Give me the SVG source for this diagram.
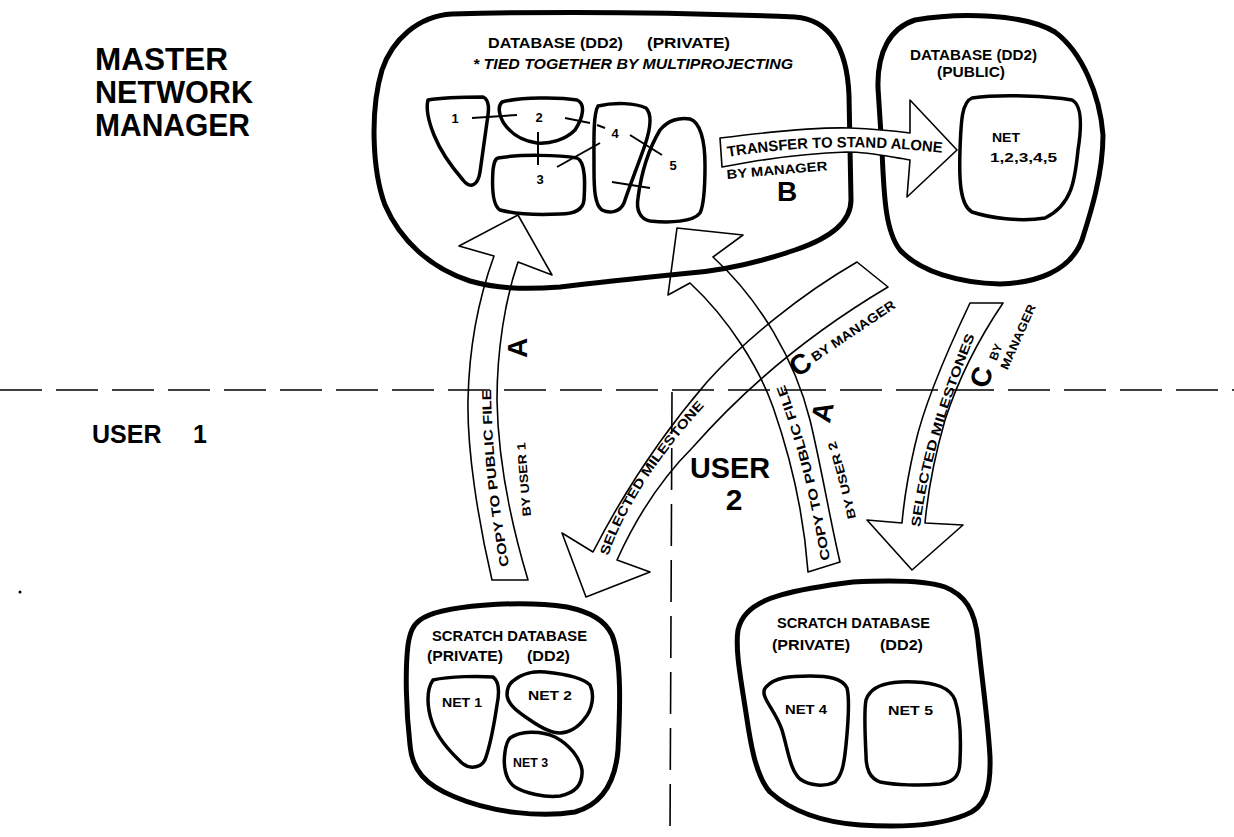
<svg xmlns="http://www.w3.org/2000/svg" width="1234" height="837" viewBox="0 0 1234 837">
<style>
text{font-family:"Liberation Sans",Arial,sans-serif;font-weight:bold;fill:#000}
.blob{fill:none;stroke:#000;stroke-width:5;stroke-linejoin:round}
.inner{fill:none;stroke:#000;stroke-width:3.5;stroke-linejoin:round}
.band{fill:none;stroke:#000;stroke-width:1.6;stroke-linejoin:round}
.bandw{fill:#fff;stroke:#000;stroke-width:1.6;stroke-linejoin:round}
.link{stroke:#000;stroke-width:2;fill:none}
.dash{stroke:#000;stroke-width:1.6;fill:none;stroke-dasharray:42 14}
.big{font-size:32px}
.mid{font-size:28px}
.sm{font-size:13px}
</style>
<defs>
<path id="pA1" d="M 509,566 C 500,510 492,460 491,388"/>
<path id="pA1b" d="M 531,516 L 525,441"/>
<path id="pA2" d="M 830,560 C 820,500 810,450 782,378"/>
<path id="pA2b" d="M 856,518 C 850,490 843,462 834,437"/>
<path id="pC1" d="M 608,556 C 623,513 652,463 708,402"/>
<path id="pC2" d="M 920,527 C 926,480 940,420 978,328"/>
<path id="pB" d="M 728,157 Q 830,140 945,153"/>
</defs>
<rect width="1234" height="837" fill="#fff"/>

<g id="section-labels">
<text class="big" x="95" y="70" textLength="133" lengthAdjust="spacingAndGlyphs">MASTER</text>
<text class="big" x="95" y="103" textLength="158" lengthAdjust="spacingAndGlyphs">NETWORK</text>
<text class="big" x="95" y="136" textLength="155" lengthAdjust="spacingAndGlyphs">MANAGER</text>
<text style="font-size:25px" x="92" y="443">USER <tspan x="193">1</tspan></text>
<text style="font-size:30px" x="690" y="478" textLength="80" lengthAdjust="spacingAndGlyphs">USER</text>
<text style="font-size:30px" x="734" y="510" text-anchor="middle">2</text>
<circle cx="20" cy="592" r="1.5" fill="#000"/>
</g>

<g id="dividers">
<line class="dash" x1="0" y1="390" x2="1234" y2="390"/>
<line class="dash" x1="672" y1="392" x2="670" y2="837"/>
</g>

<g id="connectors">
<path id="arrowA1" class="band" d="M 492,580 C 478,520 467,450 468,400 C 469,350 478,300 494,256 L 459,246 L 518,215 L 552,275 L 518,262 C 505,300 497,350 497,400 C 498,460 510,520 528,580 Z"/>
<path id="arrowA2" class="band" d="M 808,572 C 805,530 795,470 773,407 C 760,370 730,320 690,283 L 668,295 L 677,228 L 743,235 L 713,257 C 760,300 795,360 810,420 C 822,470 830,520 840,562 Z"/>
<path id="arrowC1" class="band" d="M 857,262 C 800,295 745,340 707,382 C 670,425 630,480 593,552 L 562,533 L 586,597 L 650,572 L 617,560 C 635,520 660,480 693,447 C 730,405 790,345 888,287 Z"/>
<path id="arrowC2" class="band" d="M 970,303 C 950,345 925,400 915,445 C 908,475 904,500 902,523 L 867,520 L 912,570 L 963,525 L 925,523 C 928,490 935,455 945,420 C 958,380 978,340 1003,303 Z"/>
</g>

<g id="db-private">
<path class="blob" d="M 452,14 C 600,10 720,14 795,17 C 832,20 847,50 849,95 L 851,200 C 851,225 825,240 795,250 C 760,262 725,270 690,273 C 640,278 600,282 560,287 C 520,290 495,288 470,281 C 430,268 400,240 385,205 C 372,170 370,110 382,70 C 392,40 418,16 452,14 Z"/>
<text style="font-size:14px" x="488" y="48" textLength="135" lengthAdjust="spacingAndGlyphs">DATABASE (DD2)</text>
<text style="font-size:14px" x="647" y="48" textLength="83" lengthAdjust="spacingAndGlyphs">(PRIVATE)</text>
<text style="font-size:14px;font-style:italic" x="473" y="69" textLength="320" lengthAdjust="spacingAndGlyphs">* TIED TOGETHER BY MULTIPROJECTING</text>
<g id="net1"><path class="inner" d="M 428,100 C 445,97 470,97 483,97 C 490,100 489,110 487,122 L 480,172 C 478,186 470,189 463,180 C 450,165 440,150 434,135 C 428,120 426,108 428,100 Z"/><text class="sm" x="455" y="123" text-anchor="middle">1</text></g>
<g id="net2"><path class="inner" d="M 502,102 C 520,97 560,97 577,100 C 586,104 583,118 575,130 C 565,140 550,144 537,143 C 522,141 510,133 503,122 C 499,114 498,106 502,102 Z"/><text class="sm" x="539" y="122" text-anchor="middle">2</text></g>
<g id="net3"><path class="inner" d="M 498,158 C 520,154 560,155 577,158 C 586,162 585,185 584,200 C 583,210 575,214 560,214 C 540,215 515,214 500,210 C 492,205 492,185 493,170 C 494,162 495,159 498,158 Z"/><text class="sm" x="540" y="184" text-anchor="middle">3</text></g>
<g id="net4"><path class="inner" d="M 598,106 C 615,102 635,103 646,108 C 653,115 650,130 645,145 C 638,165 630,185 624,203 C 620,212 610,214 602,210 C 595,205 594,190 594,170 C 594,140 593,115 598,106 Z"/><text class="sm" x="615" y="138" text-anchor="middle">4</text></g>
<g id="net5"><path class="inner" d="M 660,130 C 668,120 680,117 690,119 C 700,122 705,140 705,165 C 705,190 704,205 700,213 C 693,222 670,223 650,221 C 640,219 636,210 638,198 C 641,175 648,150 660,130 Z"/><text class="sm" x="673" y="170" text-anchor="middle">5</text></g>
<g id="multiproject-links">
<line class="link" x1="472" y1="118" x2="517" y2="115"/>
<line class="link" x1="565" y1="118" x2="590" y2="123"/>
<line class="link" x1="597" y1="125" x2="605" y2="128"/>
<line class="link" x1="630" y1="135" x2="662" y2="155"/>
<line class="link" x1="538" y1="132" x2="538" y2="165"/>
<line class="link" x1="557" y1="167" x2="600" y2="143"/>
<line class="link" x1="612" y1="182" x2="650" y2="188"/>
</g>
</g>

<g id="db-public">
<path class="blob" d="M 915,20 C 960,12 1025,14 1055,32 C 1082,52 1100,95 1103,135 C 1103,175 1090,215 1082,240 C 1070,272 1035,283 1000,284 C 960,283 920,272 900,250 C 886,232 884,200 882,150 L 878,88 C 877,52 890,28 915,20 Z"/>
<text style="font-size:14px" x="910" y="60" textLength="127" lengthAdjust="spacingAndGlyphs">DATABASE (DD2)</text>
<text style="font-size:14px" x="937" y="77" textLength="68" lengthAdjust="spacingAndGlyphs">(PUBLIC)</text>
<path class="inner" d="M 972,98 C 1000,94 1050,96 1072,100 C 1082,105 1082,125 1078,150 C 1075,180 1072,205 1045,218 C 1020,222 990,218 972,212 C 960,205 959,180 960,150 C 961,120 962,102 972,98 Z"/>
<text class="sm" x="992" y="142" textLength="28" lengthAdjust="spacingAndGlyphs">NET</text>
<text class="sm" x="990" y="162" textLength="67" lengthAdjust="spacingAndGlyphs">1,2,3,4,5</text>
</g>

<g id="arrowB">
<path class="bandw" d="M 720,138 C 760,133 820,127 850,128 C 875,129 895,131 910,133 L 910,100 L 957,150 L 907,197 L 910,160 C 890,157 870,152 847,152 C 815,153 780,157 750,162 L 722,167 Z"/>
<text style="font-size:15px"><textPath href="#pB" textLength="215" lengthAdjust="spacingAndGlyphs">TRANSFER TO STAND ALONE</textPath></text>
<text class="sm" x="727" y="179" transform="rotate(-5 727 179)" textLength="101" lengthAdjust="spacingAndGlyphs">BY MANAGER</text>
<text class="mid" x="787" y="201" text-anchor="middle">B</text>
</g>

<g id="connector-labels">
<text class="sm"><textPath href="#pA1" textLength="178" lengthAdjust="spacingAndGlyphs">COPY TO PUBLIC FILE</textPath></text>
<text style="font-size:12px"><textPath href="#pA1b" textLength="74" lengthAdjust="spacingAndGlyphs">BY USER 1</textPath></text>
<text class="mid" transform="translate(517,348) rotate(-90)" x="0" y="10" text-anchor="middle">A</text>

<text class="sm"><textPath href="#pA2" textLength="182" lengthAdjust="spacingAndGlyphs">COPY TO PUBLIC FILE</textPath></text>
<text style="font-size:12px"><textPath href="#pA2b" textLength="80" lengthAdjust="spacingAndGlyphs">BY USER 2</textPath></text>
<text class="mid" transform="translate(822,412) rotate(-78)" x="0" y="10" text-anchor="middle">A</text>

<text class="sm"><textPath href="#pC1" textLength="180" lengthAdjust="spacingAndGlyphs">SELECTED MILESTONE</textPath></text>
<text class="mid" transform="translate(800,364) rotate(-35)" x="0" y="10" text-anchor="middle">C</text>
<text class="sm" x="815" y="362" transform="rotate(-34 815 362)" textLength="98" lengthAdjust="spacingAndGlyphs">BY MANAGER</text>

<text class="sm"><textPath href="#pC2" textLength="200" lengthAdjust="spacingAndGlyphs">SELECTED MILESTONES</textPath></text>
<text class="mid" transform="translate(981,377) rotate(-75)" x="0" y="10" text-anchor="middle">C</text>
<text style="font-size:12px" transform="translate(996,352) rotate(-68)" x="0" y="4" text-anchor="middle">BY</text>
<text style="font-size:12px" transform="translate(1018,337) rotate(-66)" x="0" y="4" text-anchor="middle" textLength="70" lengthAdjust="spacingAndGlyphs">MANAGER</text>
</g>

<g id="scratch-user1">
<path class="blob" d="M 420,620 C 440,605 520,600 567,607 C 590,612 605,620 612,635 C 622,660 620,710 618,750 C 615,785 600,805 575,812 C 540,818 490,812 455,797 C 425,785 412,770 410,745 C 406,710 405,670 408,645 C 410,632 413,625 420,620 Z"/>
<text style="font-size:14px" x="432" y="641" textLength="155" lengthAdjust="spacingAndGlyphs">SCRATCH DATABASE</text>
<text style="font-size:14px" x="427" y="661" textLength="76" lengthAdjust="spacingAndGlyphs">(PRIVATE)</text>
<text style="font-size:14px" x="527" y="661" textLength="43" lengthAdjust="spacingAndGlyphs">(DD2)</text>
<g id="u1-net1"><path class="inner" d="M 433,680 C 450,676 480,676 493,677 C 500,682 499,695 497,705 C 494,725 490,745 486,757 C 483,768 470,770 462,763 C 448,750 437,737 432,722 C 427,707 426,690 433,680 Z"/><text class="sm" x="442" y="707" textLength="40" lengthAdjust="spacingAndGlyphs">NET 1</text></g>
<g id="u1-net2"><path class="inner" d="M 513,681 C 522,673 535,671 545,672 C 565,674 583,678 590,685 C 595,695 592,710 585,718 C 578,728 568,733 560,733 C 550,733 540,727 530,720 C 518,712 508,705 507,695 C 507,688 509,684 513,681 Z"/><text class="sm" x="528" y="700" textLength="44" lengthAdjust="spacingAndGlyphs">NET 2</text></g>
<g id="u1-net3"><path class="inner" d="M 510,738 C 520,731 540,730 555,737 C 570,745 580,758 582,770 C 583,785 575,793 560,796 C 545,798 525,793 515,787 C 505,780 503,765 505,752 C 506,745 507,741 510,738 Z"/><text class="sm" x="513" y="767" textLength="35" lengthAdjust="spacingAndGlyphs">NET 3</text></g>
</g>

<g id="scratch-user2">
<path class="blob" d="M 747,613 C 760,598 790,590 853,582 C 890,580 925,580 945,587 C 965,595 975,610 978,640 C 982,680 988,720 990,757 C 991,790 985,808 965,815 C 940,825 905,828 860,825 C 820,822 790,810 770,792 C 755,775 750,740 746,713 C 741,680 735,650 738,630 C 740,622 743,617 747,613 Z"/>
<text style="font-size:14px" x="777" y="628" textLength="153" lengthAdjust="spacingAndGlyphs">SCRATCH DATABASE</text>
<text style="font-size:14px" x="772" y="650" textLength="78" lengthAdjust="spacingAndGlyphs">(PRIVATE)</text>
<text style="font-size:14px" x="880" y="650" textLength="43" lengthAdjust="spacingAndGlyphs">(DD2)</text>
<g id="u2-net4"><path class="inner" d="M 766,687 C 775,677 790,676 810,676 C 828,676 842,678 847,688 C 850,700 848,725 846,745 C 844,765 842,775 835,782 C 825,787 810,786 800,779 C 790,770 788,750 782,730 C 777,715 768,705 765,697 C 763,692 764,689 766,687 Z"/><text class="sm" x="785" y="714" textLength="42" lengthAdjust="spacingAndGlyphs">NET 4</text></g>
<g id="u2-net5"><path class="inner" d="M 870,693 C 878,683 895,681 915,682 C 935,683 950,687 955,700 C 960,715 961,740 960,760 C 960,775 955,782 940,784 C 920,786 895,785 880,782 C 870,778 866,770 866,755 C 865,735 864,710 866,700 C 867,697 868,695 870,693 Z"/><text class="sm" x="888" y="715" textLength="45" lengthAdjust="spacingAndGlyphs">NET 5</text></g>
</g>
</svg>
